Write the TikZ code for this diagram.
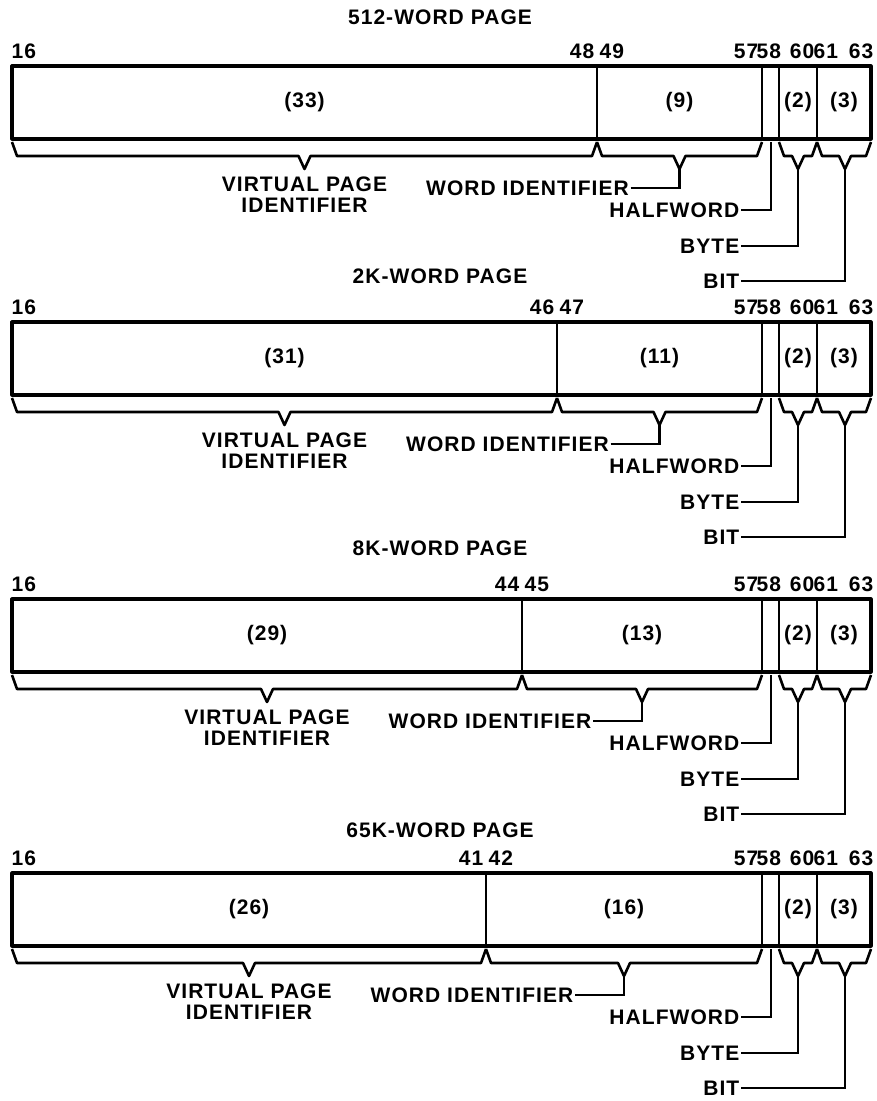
\documentclass[tikz,border=0pt]{standalone}
\usepackage{fontspec}
\setmainfont[LetterSpace=5]{Liberation Sans}
\tikzset{
  lbl/.style={font=\fontsize{21}{21}\selectfont\bfseries, inner sep=1.5pt, align=center},
  boxline/.style={line width=3.2pt, line join=round},
  divline/.style={line width=2.4pt},
  brace/.style={line width=2.6pt, line join=round},
  conn/.style={line width=2.6pt},
}
% #1 prefix, #2 title, #3 title y, #4 box top, #5 divider x,
% #6 left number, #7 right number, #8 first count, #9 second count
\newcommand\wordpage[9]{%
  \pgfmathsetmacro\pgT{#4}%
  \pgfmathsetmacro\pgB{#4+73}%
  \pgfmathsetmacro\pgV{(12+#5)/2}%
  \pgfmathsetmacro\pgW{(#5+762)/2}%
  \node[lbl] (#1-title) at (440,#3) {#2};
  % bit numbers
  \node[lbl, anchor=west] (#1-n16) at (10,\pgT-15) {16};
  \node[lbl, anchor=east] (#1-nl) at (#5-1,\pgT-15) {#6};
  \node[lbl, anchor=west] (#1-nr) at (#5+1,\pgT-15) {#7};
  \node[lbl, anchor=east] (#1-n57) at (760,\pgT-15) {57};
  \node[lbl, anchor=west] (#1-n58) at (755,\pgT-15) {58};
  \node[lbl, anchor=east] (#1-n60) at (816,\pgT-15) {60};
  \node[lbl, anchor=west] (#1-n61) at (812,\pgT-15) {61};
  \node[lbl, anchor=east] (#1-n63) at (875,\pgT-15) {63};
  % the word
  \draw[boxline] (12,\pgT) rectangle (871,\pgB);
  \draw[divline] (#5,\pgT) -- (#5,\pgB);
  \draw[divline] (762,\pgT) -- (762,\pgB);
  \draw[divline] (779,\pgT) -- (779,\pgB);
  \draw[divline] (817,\pgT) -- (817,\pgB);
  \node[lbl] (#1-c1) at (\pgV,\pgT+36.5) {#8};
  \node[lbl] (#1-c2) at (\pgW,\pgT+36.5) {#9};
  \node[lbl] (#1-c3) at (798,\pgT+36.5) {(2)};
  \node[lbl] (#1-c4) at (844,\pgT+36.5) {(3)};
  % braces
  \draw[brace] (12,\pgB+3) -- (17,\pgB+17) -- (\pgV-6,\pgB+17) -- (\pgV,\pgB+30)
     -- (\pgV+6,\pgB+17) -- (#5-5,\pgB+17) -- (#5,\pgB+3);
  \draw[brace] (#5,\pgB+3) -- (#5+5,\pgB+17) -- (\pgW-6,\pgB+17) -- (\pgW,\pgB+30)
     -- (\pgW+6,\pgB+17) -- (757,\pgB+17) -- (762,\pgB+3);
  \draw[brace] (779,\pgB+3) -- (784,\pgB+17) -- (792,\pgB+17) -- (798,\pgB+30)
     -- (804,\pgB+17) -- (812,\pgB+17) -- (817,\pgB+3);
  \draw[brace] (817,\pgB+3) -- (822,\pgB+17) -- (839,\pgB+17) -- (845,\pgB+30)
     -- (851,\pgB+17) -- (866,\pgB+17) -- (871,\pgB+3);
  \coordinate (#1-wtip) at (\pgW,\pgB+30);
  \coordinate (#1-htop) at (771,\pgB+3);
  \coordinate (#1-ytip) at (798,\pgB+30);
  \coordinate (#1-btip) at (845,\pgB+30);
  % labels
  \node[lbl] (#1-vpi) at (\pgV,\pgB+55.5) {VIRTUAL PAGE\\IDENTIFIER};
  \node[lbl, anchor=east] (#1-word) at (\pgW-49,\pgB+49) {WORD IDENTIFIER};
  \node[lbl, anchor=east] (#1-half) at (741,\pgB+71) {HALFWORD};
  \node[lbl, anchor=east] (#1-byte) at (741,\pgB+107) {BYTE};
  \node[lbl, anchor=east] (#1-bit) at (741,\pgB+142) {BIT};
  \draw[conn] (#1-word.east) -| (#1-wtip);
  \draw[conn] (#1-half.east) -| (#1-htop);
  \draw[conn] (#1-byte.east) -| (#1-ytip);
  \draw[conn] (#1-bit.east) -| (#1-btip);
}
\begin{document}
\begin{tikzpicture}[x=1pt, y=-1pt]
  \useasboundingbox (0,0) rectangle (877,1101);
  \wordpage{a}{512-WORD PAGE}{17}{66}{597}{48}{49}{(33)}{(9)}
  \wordpage{b}{2K-WORD PAGE}{276}{322}{557}{46}{47}{(31)}{(11)}
  \wordpage{c}{8K-WORD PAGE}{548}{599}{522}{44}{45}{(29)}{(13)}
  \wordpage{d}{65K-WORD PAGE}{830}{873}{486}{41}{42}{(26)}{(16)}
\end{tikzpicture}
\end{document}
